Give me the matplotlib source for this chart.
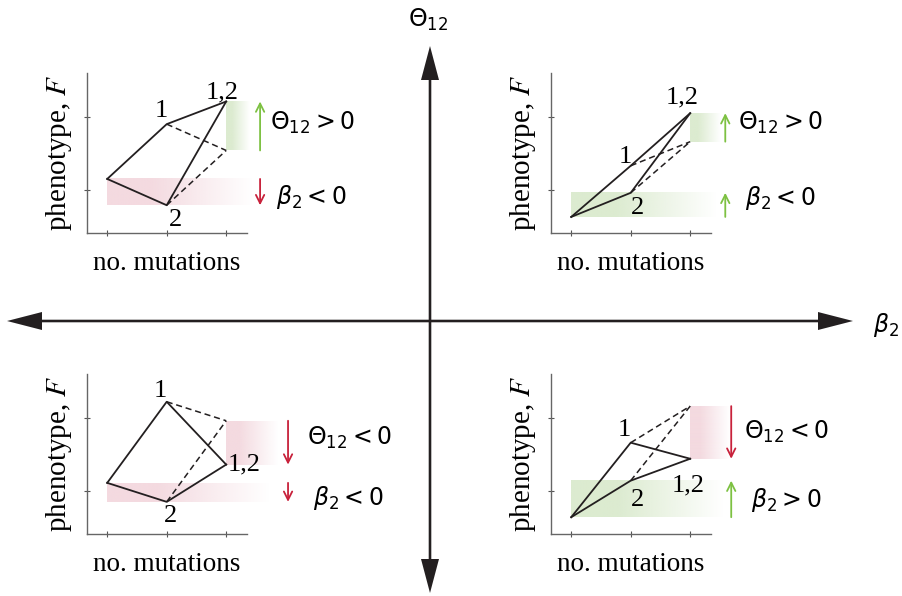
import matplotlib
matplotlib.use("Agg")
import matplotlib.pyplot as plt
import numpy as np
from matplotlib.colors import to_rgb

plt.rcParams.update({
    "font.family": "serif",
    "font.serif": ["Liberation Serif", "DejaVu Serif"],
    "mathtext.fontset": "stix",
})

W, H = 902, 596

# number of mutations on the x axis: wild type, single mutant, double mutant
n_mut = [0, 1, 2]

# phenotype values per quadrant: wild type, mutant 1, mutant 2, double mutant 1,2
quadrants = ["upper_left", "upper_right", "lower_left", "lower_right"]
F_wt = [1.15, 0.63, 1.11, 0.64]
F_1 = [1.90, 1.33, 2.22, 1.66]
F_2 = [0.79, 0.96, 0.85, 1.14]
F_12 = [2.21, 2.05, 1.36, 1.44]

theta_labels = [r"$\Theta_{12}{>}0$", r"$\Theta_{12}{>}0$",
                r"$\Theta_{12}{<}0$", r"$\Theta_{12}{<}0$"]
beta_labels = [r"$\beta_2{<}0$", r"$\beta_2{<}0$",
               r"$\beta_2{<}0$", r"$\beta_2{>}0$"]

GREEN = "#7dc142"
RED = "#c8213b"
GREEN_FILL = "#dcebd0"
PINK_FILL = "#f4dae0"
INK = "#231f20"

# panel boxes in pixels (left, top) and per-panel label/arrow placement
panel_box = [(87, 73), (551, 73), (87, 374), (551, 374)]
arrow_x = [2.57, 2.59, 3.04, 2.69]
theta_x = [2.74, 2.81, 3.36, 2.91]
theta_y = [1.92, 1.92, 1.73, 1.81]
beta_x = [2.84, 2.92, 3.46, 3.03]
beta_y = [0.90, 0.89, 0.90, 0.88]
theta_fill_end = [2.40, 2.52, 2.87, 2.66]
beta_fill_end = [2.44, 2.44, 2.74, 2.57]
lab1 = [(0.91, 2.08), (0.91, 1.45), (0.89, 2.37), (0.89, 1.84)]
lab2 = [(1.14, 0.59), (1.11, 0.75), (1.06, 0.66), (1.11, 0.88)]
lab12 = [(1.93, 2.33), (1.87, 2.26), (2.30, 1.36), (1.97, 1.07)]

fig = plt.figure(figsize=(W / 100, H / 100), dpi=100)

# background axes in pixel units for the big theta/beta cross
bg = fig.add_axes([0, 0, 1, 1])
bg.set_xlim(0, W)
bg.set_ylim(H, 0)
bg.set_axis_off()
cx, cy = 430, 321
bg.arrow(cx, cy, 0, 46 - cy, width=2.6, head_width=18, head_length=34,
         length_includes_head=True, color=INK, lw=0)
bg.arrow(cx, cy, 0, 593 - cy, width=2.6, head_width=18, head_length=34,
         length_includes_head=True, color=INK, lw=0)
bg.arrow(cx, cy, 7 - cx, 0, width=2.6, head_width=18, head_length=35,
         length_includes_head=True, color=INK, lw=0)
bg.arrow(cx, cy, 853 - cx, 0, width=2.6, head_width=18, head_length=35,
         length_includes_head=True, color=INK, lw=0)
bg.text(428, 20, r"$\Theta_{12}$", ha="center", va="center", fontsize=17,
        math_fontfamily="dejavusans")
bg.text(886, 325, r"$\beta_2$", ha="center", va="center", fontsize=17,
        math_fontfamily="dejavusans")


def fade_band(ax, x0, x1, y0, y1, color, solid=0.3):
    """Horizontal band that fades to white towards its right end."""
    n = 200
    t = np.linspace(0, 1, n)
    alpha = np.clip(1 - (t - solid) / (1 - solid), 0, 1)
    img = np.zeros((1, n, 4))
    img[..., :3] = to_rgb(color)
    img[..., 3] = alpha
    ax.imshow(img, extent=(x0, x1, min(y0, y1), max(y0, y1)), aspect="auto",
              interpolation="bilinear", zorder=0, clip_on=False)


for i, q in enumerate(quadrants):
    left, top = panel_box[i]
    ax = fig.add_axes([left / W, 1 - (top + 160) / H, 160 / W, 160 / H])
    ax.patch.set_visible(False)

    f0, f1, f2, f12 = F_wt[i], F_1[i], F_2[i], F_12[i]
    f_add = f1 + f2 - f0  # additive expectation for the double mutant

    # solid paths through the measured genotypes
    ax.plot(n_mut, [f0, f1, f12], color=INK, lw=1.3, zorder=3, clip_on=False)
    ax.plot(n_mut, [f0, f2, f12], color=INK, lw=1.3, zorder=3, clip_on=False)
    # dashed paths to the additive expectation
    ax.plot(n_mut[1:], [f1, f_add], color=INK, lw=1.1, ls=(0, (4, 2.5)),
            zorder=3, clip_on=False)
    ax.plot(n_mut[1:], [f2, f_add], color=INK, lw=1.1, ls=(0, (4, 2.5)),
            zorder=3, clip_on=False)

    # epistasis band between additive expectation and double mutant
    theta_pos = f12 > f_add
    fade_band(ax, n_mut[2], theta_fill_end[i], f_add, f12,
              GREEN_FILL if theta_pos else PINK_FILL, solid=0.25)
    ax.annotate("", xy=(arrow_x[i], f12), xytext=(arrow_x[i], f_add),
                arrowprops=dict(arrowstyle="->", color=GREEN if theta_pos else RED,
                                lw=1.3, shrinkA=0, shrinkB=0,
                                mutation_scale=15),
                annotation_clip=False)
    ax.text(theta_x[i], theta_y[i], theta_labels[i], ha="left", va="center",
            fontsize=17, math_fontfamily="dejavusans", clip_on=False)

    # effect of mutation 2 relative to wild type
    beta_pos = f2 > f0
    fade_band(ax, n_mut[0], beta_fill_end[i], f0, f2,
              GREEN_FILL if beta_pos else PINK_FILL, solid=0.3)
    ax.annotate("", xy=(arrow_x[i], f2), xytext=(arrow_x[i], f0),
                arrowprops=dict(arrowstyle="->", color=GREEN if beta_pos else RED,
                                lw=1.3, shrinkA=0, shrinkB=0,
                                mutation_scale=15),
                annotation_clip=False)
    ax.text(beta_x[i], beta_y[i], beta_labels[i], ha="left", va="center",
            fontsize=17, math_fontfamily="dejavusans", clip_on=False)

    # genotype labels
    ax.text(*lab1[i], "1", ha="center", va="center", fontsize=19)
    ax.text(*lab2[i], "2", ha="center", va="center", fontsize=19)
    ax.text(*lab12[i], "1,2", ha="center", va="center", fontsize=19)

    ax.set_xlim(-0.34, 2.35)
    ax.set_ylim(0.41, 2.60)
    ax.set_xticks(n_mut)
    ax.set_yticks([1, 2])
    ax.set_xticklabels([])
    ax.set_yticklabels([])
    ax.tick_params(direction="inout", length=5, width=0.8, color="#555555")
    for side in ("top", "right"):
        ax.spines[side].set_visible(False)
    for side in ("left", "bottom"):
        ax.spines[side].set_color("#666666")
        ax.spines[side].set_linewidth(1.0)
    ax.set_xlabel("no. mutations", fontsize=19.5, labelpad=7)
    ax.set_ylabel("phenotype, $F$", fontsize=21, labelpad=3)

fig.savefig("out.png", dpi=100)
